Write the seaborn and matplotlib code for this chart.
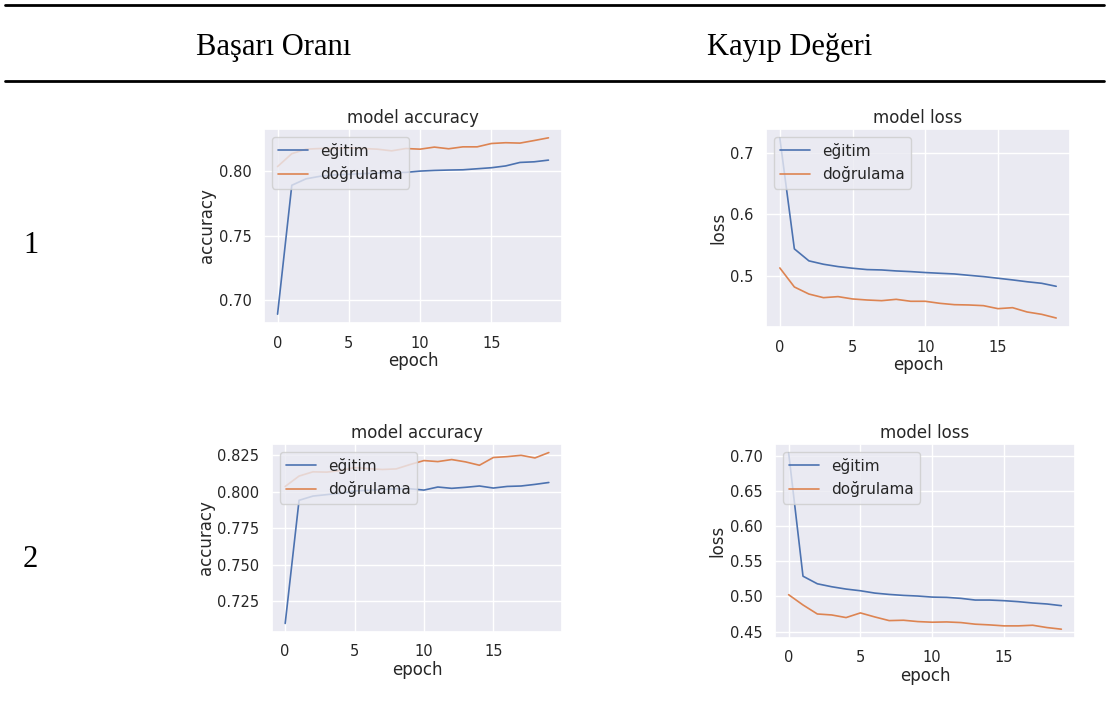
import matplotlib
matplotlib.use("Agg")
import matplotlib.pyplot as plt
from matplotlib.lines import Line2D
import numpy as np
import seaborn as sns

sns.set_theme(style="darkgrid", rc={"xtick.labelsize": 10.5, "ytick.labelsize": 10.5})
plt.rcParams["font.family"] = ["DejaVu Sans"]

# --- DATA ---
epochs = list(range(20))
series_labels = ["eğitim", "doğrulama"]
header_labels = ["Başarı Oranı", "Kayıp Değeri"]
row_labels = ["1", "2"]

acc1_train = [0.689, 0.789, 0.794, 0.796, 0.797, 0.7975, 0.798, 0.7985, 0.799, 0.799,
              0.800, 0.8005, 0.8008, 0.801, 0.8018, 0.8026, 0.804, 0.8067, 0.8072, 0.8085]
acc1_val = [0.8035, 0.8135, 0.817, 0.8175, 0.8175, 0.818, 0.8175, 0.817, 0.8157, 0.8175,
            0.817, 0.8186, 0.8173, 0.8188, 0.8188, 0.8214, 0.822, 0.8217, 0.8237, 0.8258]

loss1_train = [0.724, 0.5435, 0.524, 0.5185, 0.5147, 0.512, 0.5098, 0.5092, 0.5076, 0.5065,
               0.505, 0.5038, 0.5027, 0.5005, 0.4984, 0.4957, 0.493, 0.490, 0.4875, 0.4826]
loss1_val = [0.5125, 0.4815, 0.470, 0.4641, 0.4658, 0.462, 0.4603, 0.4592, 0.4614, 0.4582,
             0.4582, 0.4549, 0.4527, 0.4522, 0.4511, 0.4462, 0.4478, 0.4408, 0.437, 0.431]

acc2_train = [0.7098, 0.7941, 0.797, 0.798, 0.799, 0.8005, 0.801, 0.8015, 0.802, 0.802,
              0.8011, 0.8032, 0.8023, 0.803, 0.8039, 0.8025, 0.8036, 0.8039, 0.805, 0.8063]
acc2_val = [0.8036, 0.8107, 0.8136, 0.8134, 0.8145, 0.8165, 0.8158, 0.8152, 0.8156, 0.8186,
            0.8213, 0.8206, 0.822, 0.8204, 0.8181, 0.8234, 0.824, 0.8249, 0.8231, 0.8268]

loss2_train = [0.704, 0.5287, 0.5179, 0.5137, 0.5104, 0.508, 0.5047, 0.5028, 0.5014, 0.5005,
               0.499, 0.4986, 0.4972, 0.4948, 0.4948, 0.4939, 0.4925, 0.4906, 0.4892, 0.4868]
loss2_val = [0.5024, 0.4878, 0.475, 0.4736, 0.4699, 0.4765, 0.4708, 0.4656, 0.4661, 0.4642,
             0.4633, 0.4637, 0.4628, 0.4605, 0.4595, 0.4581, 0.4581, 0.459, 0.4557, 0.4534]

W, H = 1109, 703
fig = plt.figure(figsize=(W / 100, H / 100), dpi=100)
fig.patch.set_facecolor("white")


def px_axes(left, top, right, bottom):
    # axes box given in pixel coords of the picture (origin top-left)
    return fig.add_axes([left / W, 1 - bottom / H, (right - left) / W, (bottom - top) / H])


def draw_panel(ax, train, val, title, ylabel):
    sns.lineplot(x=epochs, y=train, ax=ax, label=series_labels[0], lw=1.2)
    sns.lineplot(x=epochs, y=val, ax=ax, label=series_labels[1], lw=1.2)
    ax.set_title(title, fontsize=12, pad=4)
    ax.set_xlabel("epoch", fontsize=12, labelpad=1)
    ax.set_ylabel(ylabel, fontsize=12, labelpad=2)
    ax.set_xticks([0, 5, 10, 15])
    ax.tick_params(pad=3)
    ax.legend(loc="upper left", fontsize=11)


panels = [
    ((264, 129, 562, 323), acc1_train, acc1_val, "model accuracy", "accuracy"),
    ((766, 129, 1070, 327), loss1_train, loss1_val, "model loss", "loss"),
    ((272, 444, 562, 632), acc2_train, acc2_val, "model accuracy", "accuracy"),
    ((775, 444, 1075, 638), loss2_train, loss2_val, "model loss", "loss"),
]
for box, tr, va, title, ylab in panels:
    draw_panel(px_axes(*box), tr, va, title, ylab)

# table header: rules and column titles
for y in (5, 81):
    fig.add_artist(Line2D([5 / W, 1104 / W], [1 - y / H, 1 - y / H],
                          transform=fig.transFigure, color="black", lw=2))

serif = "Liberation Serif"
fig.text(274 / W, 1 - 55 / H, header_labels[0], family=serif, fontsize=22,
         ha="center", va="baseline", color="black")
fig.text(790 / W, 1 - 55 / H, header_labels[1], family=serif, fontsize=22,
         ha="center", va="baseline", color="black")
fig.text(30.5 / W, 1 - 253 / H, row_labels[0], family=serif, fontsize=22,
         ha="center", va="baseline", color="black")
fig.text(30.5 / W, 1 - 567 / H, row_labels[1], family=serif, fontsize=22,
         ha="center", va="baseline", color="black")

fig.savefig("out.png", dpi=100, facecolor="white")
